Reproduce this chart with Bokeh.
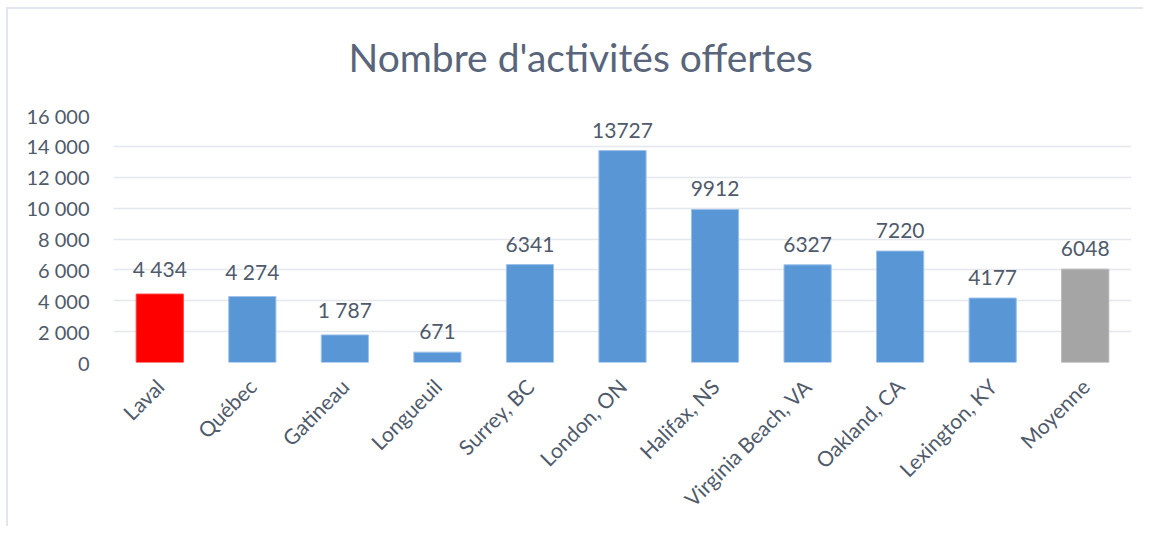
from bokeh.plotting import figure
from bokeh.models import ColumnDataSource, FixedTicker, LabelSet, FactorRange, Range1d, Title
from bokeh.embed import file_html
from bokeh.resources import INLINE
from bokeh.core.properties import value
import math

chart_title = "Nombre d'activités offertes"
cities = ["Laval", "Québec", "Gatineau", "Longueuil", "Surrey, BC", "London, ON",
          "Halifax, NS", "Virginia Beach, VA", "Oakland, CA", "Lexington, KY", "Moyenne"]
activities = [4434, 4274, 1787, 671, 6341, 13727, 9912, 6327, 7220, 4177, 6048]
value_labels = ["4 434", "4 274", "1 787", "671", "6341", "13727", "9912", "6327", "7220", "4177", "6048"]
bar_colors = ["#ff0000"] + ["#5896d6"] * 9 + ["#a5a5a5"]
edge_colors = ["#ff4040"] + ["#9cc2ea"] * 9 + ["#b8b8b8"]
y_ticks = [0, 2000, 4000, 6000, 8000, 10000, 12000, 14000, 16000]
y_tick_labels = ["0", "2 000", "4 000", "6 000", "8 000", "10 000", "12 000", "14 000", "16 000"]

TEXT = "#4f5a6b"
FONT = "Lato"

src = ColumnDataSource(dict(x=cities, y=activities, lab=value_labels, c=bar_colors, e=edge_colors))

p = figure(width=1137, height=519, x_range=FactorRange(*cities), y_range=Range1d(0, 16000),
           output_backend="svg", toolbar_location=None, title=None,
           min_border_left=105, min_border_right=14, min_border_top=106, min_border_bottom=166)
p.margin = (7, 0, 0, 6)
p.styles = {"border-left": "2px solid #e3e6ee", "border-top": "2px solid #e3e6ee"}
p.outline_line_color = None

# spacer between frame and title (closest to the frame)
spacer = Title(text=" ", text_font_size="1px", standoff=33)
p.add_layout(spacer, "above")
main_title = Title(text=chart_title, align="left", offset=235, standoff=0,
                   text_font=FONT, text_font_size="39px", text_font_style="normal",
                   text_color="#59657a")
p.add_layout(main_title, "above")

p.vbar(x="x", top="y", width=0.51, fill_color="c", line_color="e", line_width=1, source=src)

labels = LabelSet(x="x", y="y", text="lab", source=src, y_offset=13,
                  text_align="center", text_baseline="bottom",
                  text_font=value(FONT), text_font_size="21px", text_color=TEXT)
p.add_layout(labels)

p.yaxis.ticker = FixedTicker(ticks=y_ticks)
p.yaxis.major_label_overrides = {t: l for t, l in zip(y_ticks, y_tick_labels)}
for ax in (p.xaxis, p.yaxis):
    ax.axis_line_color = None
    ax.major_tick_line_color = None
    ax.minor_tick_line_color = None
    ax.major_label_text_font = FONT
    ax.major_label_text_color = TEXT
p.yaxis.major_label_text_font_size = "20px"
p.yaxis.major_label_standoff = 18
p.xaxis.major_label_text_font_size = "21px"
p.xaxis.major_label_orientation = math.pi / 4
p.xaxis.major_label_standoff = 14

p.xgrid.grid_line_color = None
p.ygrid.grid_line_color = "#e4e7ee"
p.ygrid.grid_line_width = 1.5

open("out.html", "w").write(file_html(p, INLINE))
